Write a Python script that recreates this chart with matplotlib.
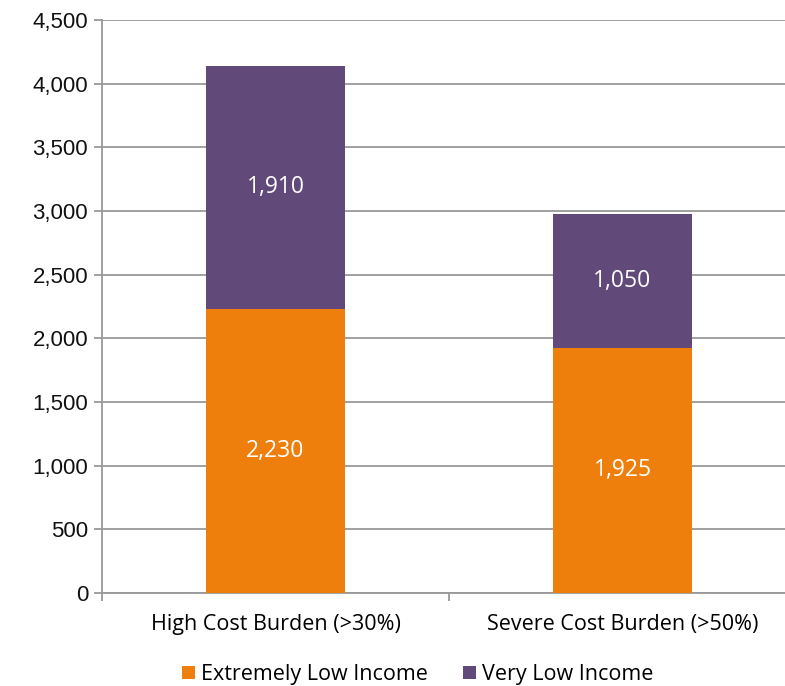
import numpy as np, matplotlib
matplotlib.use("Agg")
import matplotlib.pyplot as plt
from matplotlib.ticker import FuncFormatter

categories = ["High Cost Burden (>30%)", "Severe Cost Burden (>50%)"]
extremely_low = [2230, 1925]
very_low = [1910, 1050]
series_names = ["Extremely Low Income", "Very Low Income"]
colors = ["#EF7F0D", "#614979"]

lab_font = "Open Sans"
fig = plt.figure(figsize=(7.85, 6.86), dpi=100)
ax = fig.add_axes([102/785, 93/686, 694/785, 573/686])
x = np.arange(len(categories))
b1 = ax.bar(x, extremely_low, width=0.4, color=colors[0], label=series_names[0], zorder=3)
b2 = ax.bar(x, very_low, width=0.4, bottom=extremely_low, color=colors[1], label=series_names[1], zorder=3)
for bars in (b1, b2):
    ax.bar_label(bars, labels=[f"{v:,.0f}" for v in bars.datavalues], label_type="center",
                 color="white", fontsize=16.5, family=lab_font)

ax.set_xlim(-0.5, 1.5); ax.set_ylim(0, 4500)
ax.set_yticks(np.arange(0, 4501, 500))
ax.yaxis.set_major_formatter(FuncFormatter(lambda v, p: f"{v:,.0f}"))
ax.grid(axis="y", color="#999999", linewidth=1.3, zorder=0)
ax.set_xticks([-0.5, 0.5, 1.5], minor=False)
ax.set_xticklabels([])
ax.set_xticks(x, minor=True)
ax.set_xticklabels(categories, minor=True, fontsize=15.5, family=lab_font)
ax.tick_params(axis="x", which="minor", length=0, pad=15)
ax.tick_params(axis="x", which="major", length=6, width=1.3, color="#999999")
ax.tick_params(axis="y", length=6, width=1.3, color="#999999", labelsize=16, pad=4,
               labelcolor="#111111")
for lbl in ax.get_yticklabels():
    lbl.set_family("Liberation Sans")
for s in ("top", "right"):
    ax.spines[s].set_visible(False)
for s in ("left", "bottom"):
    ax.spines[s].set_color("#999999"); ax.spines[s].set_linewidth(1.3)

fig.legend(loc="lower center", bbox_to_anchor=(0.532, -0.027), ncol=2, frameon=False,
           prop={"family": lab_font, "size": 15.5}, handlelength=0.6, handleheight=0.6,
           handletextpad=0.3, columnspacing=1.6)
plt.savefig("out.png", dpi=100)
